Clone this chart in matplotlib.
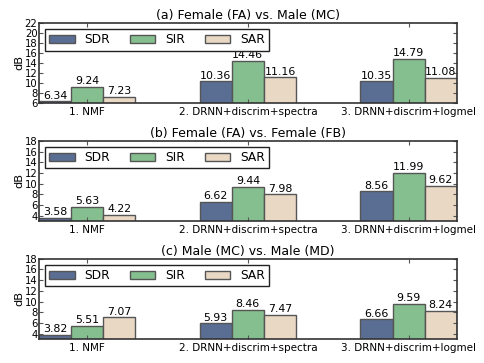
import numpy as np
import matplotlib
matplotlib.use('Agg')
import matplotlib.pyplot as plt

# methods on the x axis
methods = ['1. NMF', '2. DRNN+discrim+spectra', '3. DRNN+discrim+logmel']
metrics = ['SDR', 'SIR', 'SAR']
colors = ['#5a6d92', '#86bf8f', '#e9d8c4']

# scores per panel, rows = methods, columns = SDR/SIR/SAR
fa_mc = [[6.34, 9.24, 7.23], [10.36, 14.46, 11.16], [10.35, 14.79, 11.08]]
fa_fb = [[3.58, 5.63, 4.22], [6.62, 9.44, 7.98], [8.56, 11.99, 9.62]]
mc_md = [[3.82, 5.51, 7.07], [5.93, 8.46, 7.47], [6.66, 9.59, 8.24]]

titles = ['(a) Female (FA) vs. Male (MC)',
          '(b) Female (FA) vs. Female (FB)',
          '(c) Male (MC) vs. Male (MD)']
ylims = [(6, 22), (3, 18), (3, 18)]
yticks = [np.arange(6, 23, 2), np.arange(4, 19, 2), np.arange(4, 19, 2)]

fig, axes = plt.subplots(3, 1, figsize=(4.85, 3.63), dpi=100)
fig.subplots_adjust(left=0.080, right=0.942, top=0.937, bottom=0.066, hspace=0.47)

w = 0.2
x = np.arange(len(methods))
for ax, data, title, yl, yt in zip(axes, [fa_mc, fa_fb, mc_md], titles, ylims, yticks):
    data = np.array(data)
    for j, m in enumerate(metrics):
        bars = ax.bar(x + j * w, data[:, j], w, bottom=0, align='edge',
                      color=colors[j], edgecolor='#555555', linewidth=1.0, label=m)
        for b, v in zip(bars, data[:, j]):
            ax.text(b.get_x() + w / 2, v + 0.12, '%.2f' % v, ha='center', va='bottom',
                    fontsize=7.9)
    ax.set_xlim(0, 2 + 3 * w)
    ax.set_ylim(*yl)
    ax.set_yticks(yt)
    ax.set_xticks(x + 1.5 * w)
    ax.set_xticklabels(methods, fontsize=7.5)
    ax.tick_params(axis='y', labelsize=7.2, pad=1)
    ax.tick_params(direction='in', top=True, right=True, length=3, color='#555555')
    ax.tick_params(axis='x', pad=3)
    for s in ax.spines.values():
        s.set_color('#333333')
        s.set_linewidth(1.2)
    ax.set_ylabel('dB', fontsize=8.2, labelpad=0)
    ax.set_title(title, fontsize=9, pad=3)
    leg = ax.legend(loc='upper left', ncol=3, fontsize=8.8, fancybox=False,
                    handlelength=2.1, handleheight=0.7, handletextpad=0.8,
                    columnspacing=1.6, borderpad=0.35, borderaxespad=0.5,
                    framealpha=1)
    leg.get_frame().set_edgecolor('#222222')
    leg.get_frame().set_linewidth(1.0)

fig.savefig('out.png', dpi=100)
